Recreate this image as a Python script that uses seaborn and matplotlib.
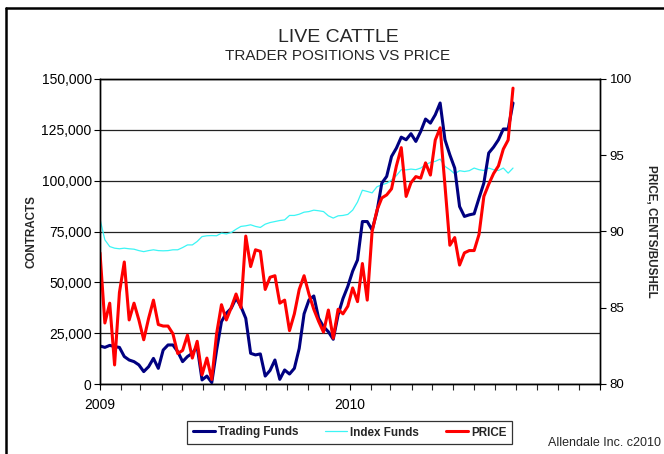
import pandas as pd
import numpy as np
import matplotlib
matplotlib.use('Agg')
import matplotlib.pyplot as plt
import matplotlib.dates as mdates
from matplotlib.lines import Line2D
from matplotlib.ticker import FuncFormatter, MultipleLocator
import seaborn as sns

# Данные (недельные значения)
start_date = '2009-01-01'
end_date = '2010-08-27'

trading_funds = [18.7, 18.0, 19.0, 18.4, 18.0, 13.5, 11.8, 11.0, 9.4, 6.1,
                 8.5, 12.6, 7.7, 16.7, 19.2, 19.2, 15.9, 11.0, 13.5, 15.1,
                 18.4, 2.0, 3.9, 0.7, 16.7, 30.7, 34.8, 37.2, 42.2, 38.1,
                 32.3, 15.1, 14.3, 14.8, 3.9, 6.7, 11.8, 2.3, 6.9, 4.9,
                 7.7, 17.5, 34.5, 41.3, 43.3, 32.3, 28.2, 25.7, 22.0, 34.0,
                 42.0, 48.0, 55.5, 61.0, 79.9, 79.9, 75.8, 84.8, 98.8, 102.1,
                 111.9, 116.0, 121.4, 120.1, 123.1, 119.3, 124.2, 130.3, 128.3, 132.4,
                 138.2, 120.1, 112.7, 106.2, 87.3, 82.4, 83.2, 83.7, 91.4, 98.8,
                 113.6, 116.5, 120.1, 125.4, 125.4, 138.2]

index_funds = [81.1, 70.9, 67.6, 66.8, 66.5, 66.8, 66.5, 66.3, 65.6, 65.1,
               65.6, 66.0, 65.6, 65.5, 65.6, 66.0, 66.0, 67.1, 68.4, 68.4,
               70.1, 72.5, 72.9, 73.0, 72.9, 74.2, 73.8, 74.5, 76.1, 77.5,
               77.8, 78.3, 77.5, 77.0, 78.6, 79.4, 79.9, 80.4, 80.7, 82.9,
               82.9, 83.5, 84.5, 84.8, 85.5, 85.2, 84.8, 82.7, 81.6, 82.7,
               82.9, 83.4, 85.5, 89.5, 95.3, 94.7, 94.0, 97.0, 98.0, 98.7,
               100.3, 102.5, 105.4, 105.3, 105.7, 105.4, 106.2, 107.8, 109.0, 109.5,
               110.6, 107.0, 105.4, 103.4, 104.9, 104.5, 104.9, 106.2, 105.4, 105.0,
               106.2, 105.4, 105.0, 106.2, 103.7, 106.2]

price = [88.6, 84.0, 85.3, 81.25, 86.0, 88.0, 84.2, 85.3, 84.2, 82.9,
         84.3, 85.5, 83.9, 83.8, 83.8, 83.3, 82.0, 82.2, 83.2, 81.7,
         82.8, 80.6, 81.7, 80.3, 83.3, 85.2, 84.2, 85.0, 85.9, 85.0,
         89.7, 87.7, 88.8, 88.7, 86.2, 87.0, 87.1, 85.3, 85.5, 83.5,
         84.6, 86.2, 87.1, 85.9, 84.9, 84.1, 83.4, 84.85, 83.0, 84.9,
         84.6, 85.1, 86.3, 85.4, 87.9, 85.5, 90.0, 91.4, 92.2, 92.4,
         92.8, 94.3, 95.5, 92.3, 93.2, 93.6, 93.5, 94.5, 93.7, 96.0,
         96.8, 93.0, 89.1, 89.6, 87.8, 88.6, 88.75, 88.75, 89.8, 92.3,
         93.1, 93.8, 94.3, 95.4, 96.0, 99.4]

dates = pd.date_range(start_date, end_date, periods=len(price))
df = pd.DataFrame({'date': dates,
                   'trading': np.array(trading_funds) * 1000,
                   'index': np.array(index_funds) * 1000,
                   'price': price})

sns.set_style('white')
plt.rcParams['font.family'] = ['Liberation Sans', 'DejaVu Sans']

fig = plt.figure(figsize=(6.64, 4.54), dpi=100)
ax = fig.add_axes([100 / 664, 1 - 384 / 454, 500 / 664, 305 / 454])
ax2 = ax.twinx()

# Линии
sns.lineplot(x='date', y='index', data=df, ax=ax, color='#3CF5F5', lw=0.9, label='Index Funds', legend=False)
sns.lineplot(x='date', y='trading', data=df, ax=ax, color='#000080', lw=2.2, label='Trading Funds', legend=False)
sns.lineplot(x='date', y='price', data=df, ax=ax2, color='#FF0000', lw=2.2, label='PRICE', legend=False)

# Оси
ax.set_xlim(pd.Timestamp('2009-01-01'), pd.Timestamp('2011-01-01'))
ax.set_ylim(0, 150000)
ax2.set_ylim(80, 100)
ax.yaxis.set_major_locator(MultipleLocator(25000))
ax.yaxis.set_major_formatter(FuncFormatter(lambda v, p: f'{int(v):,}'))
ax2.yaxis.set_major_locator(MultipleLocator(5))

ax.xaxis.set_major_locator(mdates.YearLocator())
ax.xaxis.set_major_formatter(FuncFormatter(lambda v, p: mdates.num2date(v).strftime('%Y') if mdates.num2date(v).year < 2011 else ''))
ax.xaxis.set_minor_locator(mdates.MonthLocator())

ax.grid(axis='y', color='#222222', lw=0.9)
ax.set_axisbelow(True)
for a in (ax, ax2):
    for s in a.spines.values():
        s.set_color('black')
        s.set_linewidth(1.0)

ax.tick_params(axis='y', which='major', direction='out', length=4, width=0.8, labelsize=10, colors='black', left=True, pad=2)
ax.tick_params(axis='x', which='major', direction='out', length=4, width=0.8, labelsize=10, colors='black', bottom=True, pad=6)
ax.tick_params(axis='x', which='minor', direction='out', length=4, width=0.8, bottom=True)
ax2.tick_params(axis='y', direction='out', length=4, width=0.8, labelsize=9.5, colors='black', right=True, pad=3)

ax.set_xlabel('')
ax.set_ylabel('CONTRACTS', fontsize=8.4, fontweight='bold', labelpad=3)
ax2.set_ylabel('PRICE, CENTS/BUSHEL', fontsize=8.4, fontweight='bold', rotation=270, labelpad=18)

# Заголовки
fig.text(0.509, 1 - 37 / 454, 'LIVE CATTLE', ha='center', va='center', fontsize=14)
fig.text(0.509, 1 - 56 / 454, 'TRADER POSITIONS VS PRICE', ha='center', va='center', fontsize=11)

# Легенда
handles = [Line2D([], [], color='#000080', lw=2.2),
           Line2D([], [], color='#3CF5F5', lw=0.9),
           Line2D([], [], color='#FF0000', lw=2.2)]
leg = fig.legend(handles, ['Trading Funds', 'Index Funds', 'PRICE'], loc='center',
                 bbox_to_anchor=(349.5 / 664, 1 - 432.5 / 454), ncol=3, frameon=True,
                 fancybox=False, edgecolor='black', prop={'weight': 'bold', 'size': 8.4},
                 handlelength=1.9, handletextpad=0.25, columnspacing=2.3, borderpad=0.45,
                 borderaxespad=0)
leg.get_frame().set_linewidth(0.9)

fig.text(548 / 664, 1 - 443 / 454, 'Allendale Inc. c2010', ha='left', va='center', fontsize=9)

# Рамка
fig.add_artist(Line2D([6 / 664, 6 / 664], [0, 1 - 8 / 454], transform=fig.transFigure, color='black', lw=1.8))
fig.add_artist(Line2D([6 / 664, 1], [1 - 8 / 454, 1 - 8 / 454], transform=fig.transFigure, color='black', lw=1.8))

fig.savefig('out.png', dpi=100)
